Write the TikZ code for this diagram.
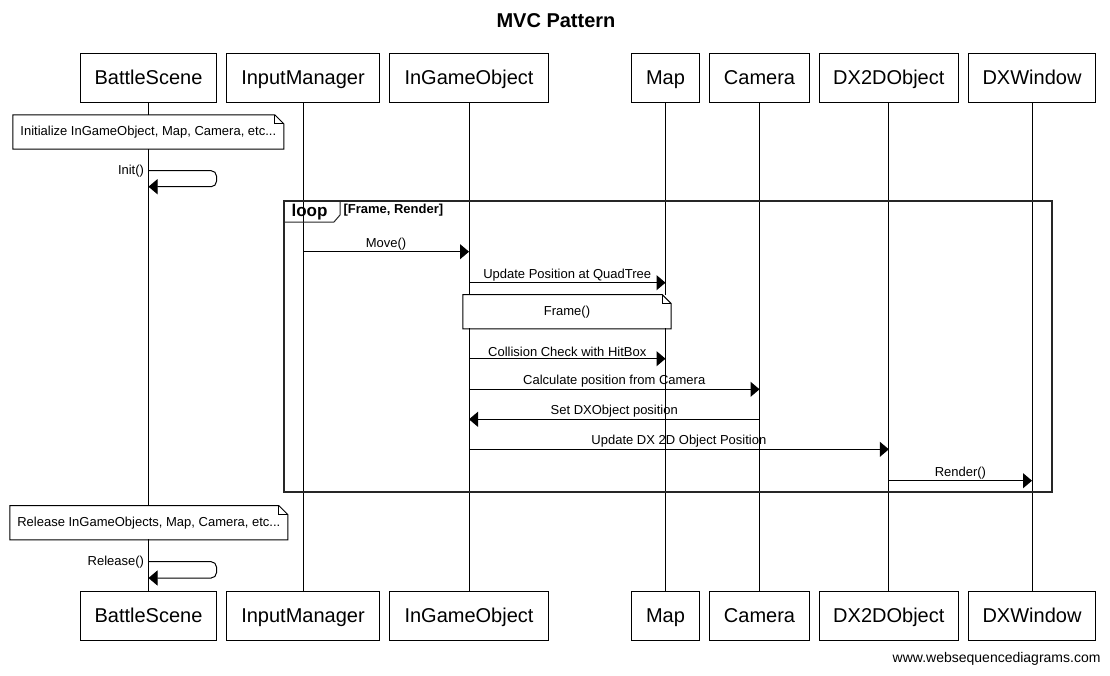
\documentclass[tikz,border=0pt]{standalone}
\usepackage{fontspec}
\setmainfont{Liberation Sans}
\usetikzlibrary{arrows.meta}

\begin{document}
\begin{tikzpicture}[x=0.75pt, y=-0.75pt, line width=0.75pt,
		actor/.style={draw, rectangle, inner sep=0pt, minimum height=36.75pt, text height=10.75pt, text depth=0pt, font=\fontsize{15}{18}\selectfont},
		note/.style={fill=white, rectangle, inner sep=0pt, minimum height=25pt, font=\fontsize{9.75}{12}\selectfont},
		msg/.style={-{Triangle[length=6.75pt, width=11.25pt]}},
		lbl/.style={inner sep=1pt, font=\fontsize{9.75}{12}\selectfont}]
				\useasboundingbox (0,0) rectangle (1110,675);
				\node[font=\bfseries\fontsize{15}{18}\selectfont] (title) at (556, 21) {MVC Pattern};
				% participants, top row
				\node[actor, minimum width=102pt] (BS) at (148.5, 77.8) {BattleScene};
				\node[actor, minimum width=114.75pt] (IM) at (303, 77.8) {InputManager};
				\node[actor, minimum width=119.5pt] (IGO) at (469, 77.8) {InGameObject};
				\node[actor, minimum width=50.7pt] (MAP) at (665.5, 77.8) {Map};
				\node[actor, minimum width=75.5pt] (CAM) at (759.5, 77.8) {Camera};
				\node[actor, minimum width=104.25pt] (DXO) at (888.8, 77.8) {DX2DObject};
				\node[actor, minimum width=95.5pt] (DXW) at (1032, 77.8) {DXWindow};
				% participants, bottom row
				\node[actor, minimum width=102pt] (BSb) at (148.5, 615.5) {BattleScene};
				\node[actor, minimum width=114.75pt] (IMb) at (303, 615.5) {InputManager};
				\node[actor, minimum width=119.5pt] (IGOb) at (469, 615.5) {InGameObject};
				\node[actor, minimum width=50.7pt] (MAPb) at (665.5, 615.5) {Map};
				\node[actor, minimum width=75.5pt] (CAMb) at (759.5, 615.5) {Camera};
				\node[actor, minimum width=104.25pt] (DXOb) at (888.8, 615.5) {DX2DObject};
				\node[actor, minimum width=95.5pt] (DXWb) at (1032, 615.5) {DXWindow};
				% lifelines
				\draw (BS) -- (BSb);
				\draw (IM) -- (IMb);
				\draw (IGO) -- (IGOb);
				\draw (MAP) -- (MAPb);
				\draw (CAM) -- (CAMb);
				\draw (DXO) -- (DXOb);
				\draw (DXW) -- (DXWb);
				% notes
				\node[note, minimum width=202.5pt] (initNote) at (148.3, 132) {Initialize InGameObject, Map, Camera, etc...};
				\node[note, minimum width=155.5pt] (frameNote) at (567, 311.7) {Frame()};
				\node[note, minimum width=207.75pt] (releaseNote) at (148.8, 522.7) {Release InGameObjects, Map, Camera, etc...};
				\draw (initNote.north west) -- ([xshift=-6.75pt]initNote.north east) -- ([yshift=-6.75pt]initNote.north east) -- (initNote.south east) -- (initNote.south west) -- cycle;
				\draw ([xshift=-6.75pt]initNote.north east) |- ([yshift=-6.75pt]initNote.north east);
				\draw (frameNote.north west) -- ([xshift=-6.75pt]frameNote.north east) -- ([yshift=-6.75pt]frameNote.north east) -- (frameNote.south east) -- (frameNote.south west) -- cycle;
				\draw ([xshift=-6.75pt]frameNote.north east) |- ([yshift=-6.75pt]frameNote.north east);
				\draw (releaseNote.north west) -- ([xshift=-6.75pt]releaseNote.north east) -- ([yshift=-6.75pt]releaseNote.north east) -- (releaseNote.south east) -- (releaseNote.south west) -- cycle;
				\draw ([xshift=-6.75pt]releaseNote.north east) |- ([yshift=-6.75pt]releaseNote.north east);
				% self calls
				\draw[msg, rounded corners=4pt] (BS |- 0, 170.7) node[lbl, anchor=east, inner sep=3pt] (init) {Init()} -- ++(68, 0) |- (BS |- 0, 186.7);
				\draw[msg, rounded corners=4pt] (BS |- 0, 561.7) node[lbl, anchor=east, inner sep=3pt] (release) {Release()} -- ++(68, 0) |- (BS |- 0, 578);
				% loop frame
				\draw[line width=1.6pt, black!85] (284, 200.7) rectangle (1051.7, 492.3);
				\draw[black!85] (284, 200.7) -- (340, 200.7) -- (340, 215) -- (334, 222) -- (284, 222);
				\node[font=\bfseries\fontsize{12.75}{15}\selectfont] (loop) at (309.5, 212) {loop};
				\node[anchor=west, inner sep=0pt, font=\bfseries\fontsize{9.75}{12}\selectfont] (guard) at (343, 210.5) {[Frame, Render]};
				% messages
				\draw[msg] (IM |- 0, 251.7) -- node[lbl, above] (move) {Move()} (IGO |- 0, 251.7);
				\draw[msg] (IGO |- 0, 282.7) -- node[lbl, above] (quad) {Update Position at QuadTree} (MAP |- 0, 282.7);
				\draw[msg] (IGO |- 0, 358.7) -- node[lbl, above] (hit) {Collision Check with HitBox} (MAP |- 0, 358.7);
				\draw[msg] (IGO |- 0, 389.3) -- node[lbl, above] (calc) {Calculate position from Camera} (CAM |- 0, 389.3);
				\draw[msg] (CAM |- 0, 419.3) -- node[lbl, above] (setpos) {Set DXObject position} (IGO |- 0, 419.3);
				\draw[msg] (IGO |- 0, 449.3) -- node[lbl, above] (upd) {Update DX 2D Object Position} (DXO |- 0, 449.3);
				\draw[msg] (DXO |- 0, 480.7) -- node[lbl, above] (render) {Render()} (DXW |- 0, 480.7);
				\node[anchor=east, inner sep=0pt, font=\fontsize{10.5}{12}\selectfont] (wsd) at (1101, 659) {www.websequencediagrams.com};
			\end{tikzpicture}
\end{document}
